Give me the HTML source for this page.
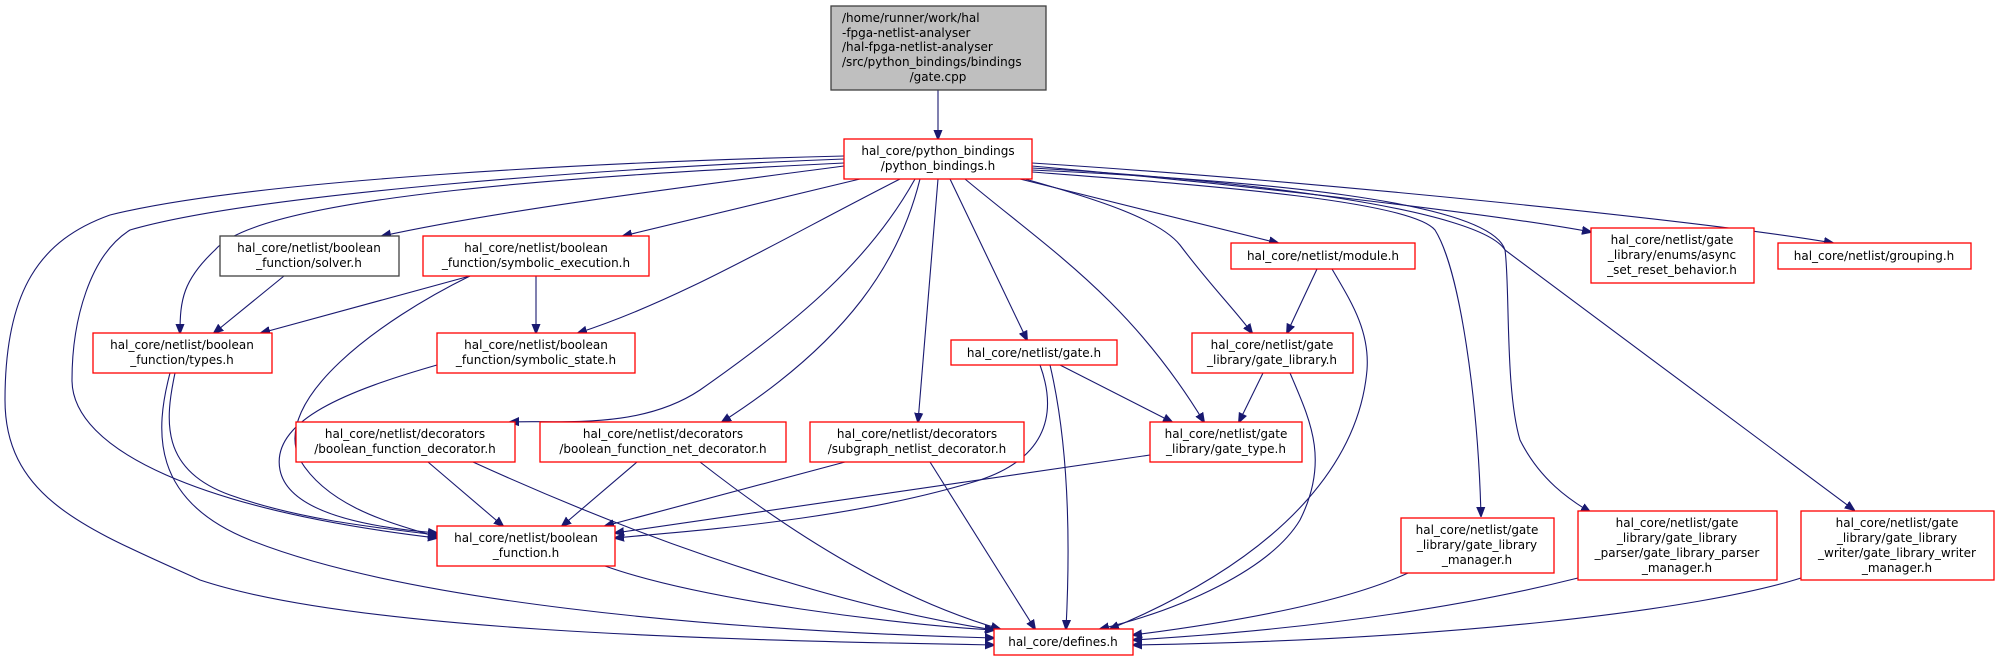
<!DOCTYPE html>
<html><head><meta charset="utf-8"><style>
html,body{margin:0;padding:0;background:#fff;}
svg{display:block;}
text{font-family:"DejaVu Sans","Liberation Sans",sans-serif;font-size:12px;fill:#000;}
.n{fill:#fff;stroke:#ff0000;stroke-width:1.3;}
.e{fill:none;stroke:#191970;stroke-width:1.1;}
</style></head><body>
<svg width="2007" height="661" viewBox="0 0 2007 661" xmlns="http://www.w3.org/2000/svg">
<defs><marker id="a" viewBox="0 0 10 10" refX="9" refY="5" markerWidth="10" markerHeight="10" markerUnits="userSpaceOnUse" orient="auto"><path d="M0,1 L10,5 L0,9 z" fill="#191970" stroke="#191970"/></marker></defs>
<g class="e" marker-end="url(#a)">
<path d="M938,90 L938,139"/>
<path d="M844,156 C600,162 250,180 110,215 C40,240 5,290 5,400 C5,500 90,530 200,580 C350,630 700,640 994,645"/>
<path d="M844,159 C600,168 250,195 130,230 C90,255 72,320 72,380 C72,450 200,510 437,538"/>
<path d="M844,163 C600,175 260,195 215,250 C183,280 180,300 180,333"/>
<path d="M844,166 C700,185 500,210 382,236"/>
<path d="M860,179 L623,236"/>
<path d="M900,179 C780,240 680,300 578,333"/>
<path d="M915,179 C870,260 800,320 700,390 C640,430 560,420 510,422"/>
<path d="M920,179 C900,260 850,340 722,422"/>
<path d="M938,179 L918,422"/>
<path d="M950,179 L1027,340"/>
<path d="M965,179 C1050,250 1130,300 1204,422"/>
<path d="M1025,179 C1100,200 1160,220 1180,245 C1210,285 1235,310 1252,333"/>
<path d="M1020,179 L1278,243"/>
<path d="M1032,172 C1200,185 1410,200 1435,230 C1460,270 1478,400 1481,516"/>
<path d="M1032,170 C1250,180 1490,200 1505,250 C1510,285 1505,390 1520,440 C1540,480 1570,500 1590,512"/>
<path d="M1032,168 C1250,180 1480,210 1505,250 L1854,510"/>
<path d="M1032,166 C1250,185 1500,215 1591,232"/>
<path d="M1032,163 C1300,180 1700,220 1833,243"/>
<path d="M284,276 L214,333"/>
<path d="M470,276 L261,333"/>
<path d="M536,276 L536,333"/>
<path d="M470,276 C380,320 270,400 300,460 C330,510 400,525 437,537"/>
<path d="M175,373 C165,420 160,470 230,495 C300,520 380,528 437,535"/>
<path d="M170,373 C155,430 150,500 250,540 C400,600 700,630 994,638"/>
<path d="M437,365 C350,390 270,420 280,470 C290,520 400,530 437,533"/>
<path d="M428,462 L503,526"/>
<path d="M473,462 C600,520 800,600 994,630"/>
<path d="M637,462 L562,526"/>
<path d="M700,462 C800,540 900,600 1000,629"/>
<path d="M845,462 L605,526"/>
<path d="M930,462 L1035,629"/>
<path d="M1040,365 C1060,420 1040,460 980,480 C850,520 700,530 615,538"/>
<path d="M1060,365 L1172,422"/>
<path d="M1050,365 C1070,450 1070,550 1066,629"/>
<path d="M1150,455 L615,533"/>
<path d="M1263,373 L1239,422"/>
<path d="M1290,373 C1310,420 1330,460 1300,520 C1270,570 1180,610 1100,629"/>
<path d="M1317,269 L1287,333"/>
<path d="M1332,269 C1350,300 1370,330 1367,370 C1360,450 1300,550 1110,629"/>
<path d="M605,566 C700,600 900,625 994,630"/>
<path d="M1408,573 C1350,600 1250,620 1133,635"/>
<path d="M1578,578 C1450,610 1300,630 1133,640"/>
<path d="M1801,578 C1700,610 1450,640 1133,645"/>
</g>
<rect x="831" y="6" width="215" height="84" fill="#bfbfbf" stroke="#404040" stroke-width="1.3"/>
<text x="842" y="22">/home/runner/work/hal</text>
<text x="842" y="37">-fpga-netlist-analyser</text>
<text x="842" y="51">/hal-fpga-netlist-analyser</text>
<text x="842" y="66">/src/python_bindings/bindings</text>
<text x="938" y="81" text-anchor="middle">/gate.cpp</text>
<g text-anchor="middle">
<rect class="n" x="844" y="139" width="188" height="40"/><text x="938" y="155">hal_core/python_bindings</text><text x="938" y="170">/python_bindings.h</text>
<rect x="220" y="236" width="179" height="40" fill="#fff" stroke="#404040" stroke-width="1.3"/><text x="309" y="252">hal_core/netlist/boolean</text><text x="309" y="267">_function/solver.h</text>
<rect class="n" x="423" y="236" width="226" height="40"/><text x="536" y="252">hal_core/netlist/boolean</text><text x="536" y="267">_function/symbolic_execution.h</text>
<rect class="n" x="1231" y="243" width="184" height="26"/><text x="1323" y="260">hal_core/netlist/module.h</text>
<rect class="n" x="1591" y="228" width="163" height="55"/><text x="1672" y="244">hal_core/netlist/gate</text><text x="1672" y="259">_library/enums/async</text><text x="1672" y="274">_set_reset_behavior.h</text>
<rect class="n" x="1778" y="243" width="193" height="26"/><text x="1874" y="260">hal_core/netlist/grouping.h</text>
<rect class="n" x="93" y="333" width="179" height="40"/><text x="182" y="349">hal_core/netlist/boolean</text><text x="182" y="364">_function/types.h</text>
<rect class="n" x="437" y="333" width="198" height="40"/><text x="536" y="349">hal_core/netlist/boolean</text><text x="536" y="364">_function/symbolic_state.h</text>
<rect class="n" x="951" y="340" width="166" height="25"/><text x="1034" y="357">hal_core/netlist/gate.h</text>
<rect class="n" x="1192" y="333" width="161" height="40"/><text x="1272" y="349">hal_core/netlist/gate</text><text x="1272" y="364">_library/gate_library.h</text>
<rect class="n" x="296" y="422" width="219" height="40"/><text x="405" y="438">hal_core/netlist/decorators</text><text x="405" y="453">/boolean_function_decorator.h</text>
<rect class="n" x="540" y="422" width="246" height="40"/><text x="663" y="438">hal_core/netlist/decorators</text><text x="663" y="453">/boolean_function_net_decorator.h</text>
<rect class="n" x="810" y="422" width="214" height="40"/><text x="917" y="438">hal_core/netlist/decorators</text><text x="917" y="453">/subgraph_netlist_decorator.h</text>
<rect class="n" x="1150" y="422" width="152" height="40"/><text x="1226" y="438">hal_core/netlist/gate</text><text x="1226" y="453">_library/gate_type.h</text>
<rect class="n" x="437" y="526" width="178" height="40"/><text x="526" y="542">hal_core/netlist/boolean</text><text x="526" y="557">_function.h</text>
<rect class="n" x="1401" y="518" width="153" height="55"/><text x="1477" y="534">hal_core/netlist/gate</text><text x="1477" y="549">_library/gate_library</text><text x="1477" y="564">_manager.h</text>
<rect class="n" x="1578" y="511" width="199" height="69"/><text x="1677" y="527">hal_core/netlist/gate</text><text x="1677" y="542">_library/gate_library</text><text x="1677" y="557">_parser/gate_library_parser</text><text x="1677" y="572">_manager.h</text>
<rect class="n" x="1801" y="511" width="193" height="69"/><text x="1897" y="527">hal_core/netlist/gate</text><text x="1897" y="542">_library/gate_library</text><text x="1897" y="557">_writer/gate_library_writer</text><text x="1897" y="572">_manager.h</text>
<rect class="n" x="994" y="629" width="139" height="26"/><text x="1063" y="646">hal_core/defines.h</text>
</g>
</svg>
</body></html>
